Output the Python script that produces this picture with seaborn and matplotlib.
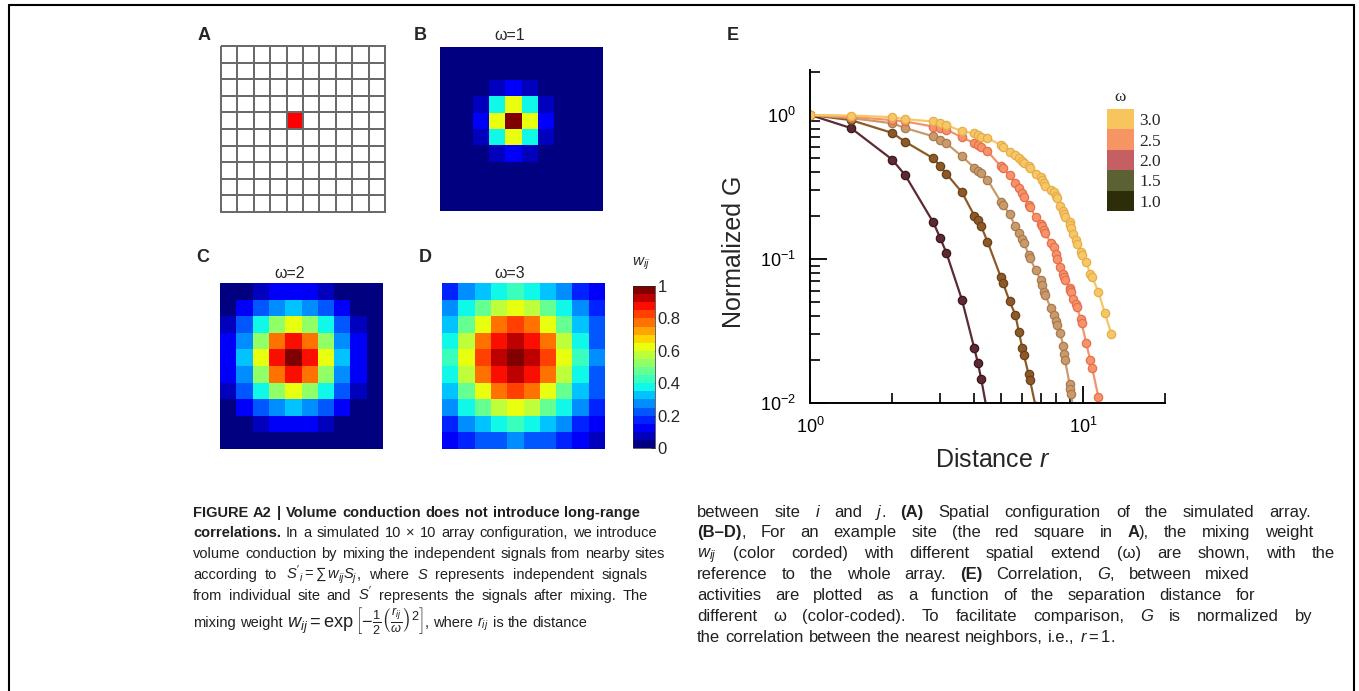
import numpy as np
import pandas as pd
import matplotlib
matplotlib.use('Agg')
import matplotlib.pyplot as plt
import seaborn as sns
from matplotlib.colors import ListedColormap
from matplotlib.lines import Line2D
from matplotlib.ticker import NullFormatter
from matplotlib import font_manager

# ---------------- data ----------------
# panel A: 10 x 10 array, the example site is marked with 1
site = np.zeros((10, 10))
site[4, 4] = 1

# panels B-D: mixing weights w_ij
w_omega1 = [
    [0, 0, 0, 0, 0, 0, 0, 0, 0, 0],
    [0, 0, 0, 0.01, 0.01, 0.01, 0, 0, 0, 0],
    [0, 0, 0.02, 0.08, 0.14, 0.08, 0.02, 0, 0, 0],
    [0, 0.01, 0.08, 0.37, 0.61, 0.37, 0.08, 0.01, 0, 0],
    [0, 0.01, 0.14, 0.61, 1.00, 0.61, 0.14, 0.01, 0, 0],
    [0, 0.01, 0.08, 0.37, 0.61, 0.37, 0.08, 0.01, 0, 0],
    [0, 0, 0.02, 0.08, 0.14, 0.08, 0.02, 0, 0, 0],
    [0, 0, 0, 0.01, 0.01, 0.01, 0, 0, 0, 0],
    [0, 0, 0, 0, 0, 0, 0, 0, 0, 0],
    [0, 0, 0, 0, 0, 0, 0, 0, 0, 0],
]
w_omega2 = [
    [0.02, 0.04, 0.08, 0.12, 0.14, 0.12, 0.08, 0.04, 0.02, 0.01],
    [0.04, 0.11, 0.20, 0.29, 0.32, 0.29, 0.20, 0.11, 0.04, 0.01],
    [0.08, 0.20, 0.37, 0.54, 0.61, 0.54, 0.37, 0.20, 0.08, 0.03],
    [0.12, 0.29, 0.54, 0.78, 0.88, 0.78, 0.54, 0.29, 0.12, 0.04],
    [0.14, 0.32, 0.61, 0.88, 1.00, 0.88, 0.61, 0.32, 0.14, 0.04],
    [0.12, 0.29, 0.54, 0.78, 0.88, 0.78, 0.54, 0.29, 0.12, 0.04],
    [0.08, 0.20, 0.37, 0.54, 0.61, 0.54, 0.37, 0.20, 0.08, 0.03],
    [0.04, 0.11, 0.20, 0.29, 0.32, 0.29, 0.20, 0.11, 0.04, 0.01],
    [0.02, 0.04, 0.08, 0.12, 0.14, 0.12, 0.08, 0.04, 0.02, 0.01],
    [0.01, 0.01, 0.03, 0.04, 0.04, 0.04, 0.03, 0.01, 0.01, 0.00],
]
w_omega3 = [
    [0.17, 0.25, 0.33, 0.39, 0.41, 0.39, 0.33, 0.25, 0.17, 0.10],
    [0.25, 0.37, 0.49, 0.57, 0.61, 0.57, 0.49, 0.37, 0.25, 0.15],
    [0.33, 0.49, 0.64, 0.76, 0.80, 0.76, 0.64, 0.49, 0.33, 0.20],
    [0.39, 0.57, 0.76, 0.89, 0.94, 0.89, 0.76, 0.57, 0.39, 0.24],
    [0.41, 0.61, 0.80, 0.94, 1.00, 0.94, 0.80, 0.61, 0.41, 0.25],
    [0.39, 0.57, 0.76, 0.89, 0.94, 0.89, 0.76, 0.57, 0.39, 0.24],
    [0.33, 0.49, 0.64, 0.76, 0.80, 0.76, 0.64, 0.49, 0.33, 0.20],
    [0.25, 0.37, 0.49, 0.57, 0.61, 0.57, 0.49, 0.37, 0.25, 0.15],
    [0.17, 0.25, 0.33, 0.39, 0.41, 0.39, 0.33, 0.25, 0.17, 0.10],
    [0.10, 0.15, 0.20, 0.24, 0.25, 0.24, 0.20, 0.15, 0.10, 0.06],
]
cbar_ticks = [0, 0.2, 0.4, 0.6, 0.8, 1]
cbar_labels = ['0', '0.2', '0.4', '0.6', '0.8', '1']

# panel E: distance r between sites and normalized G for each omega
r_all = [1, 1.414, 2, 2.236, 2.828, 3, 3.162, 3.606, 4, 4.123, 4.243, 4.472,
         5, 5.099, 5.385, 5.657, 5.831, 6, 6.083, 6.325, 6.403, 6.708,
         7, 7.071, 7.211, 7.28, 7.616, 7.81, 8, 8.062, 8.246, 8.485, 8.544,
         8.602, 8.944, 9, 9.055, 9.22, 9.434, 9.487, 9.849, 9.899, 10.296,
         10.63, 10.817, 11.402, 12.042, 12.728]

g_w10 = [1.0, 0.81, 0.49, 0.38, 0.18, 0.14, 0.11, 0.052, 0.024, 0.019,
         0.0146, 0.0085]
g_w15 = [1.0, 0.92, 0.75, 0.65, 0.50, 0.44, 0.39, 0.29, 0.20, 0.187, 0.168,
         0.132, 0.075, 0.068, 0.051, 0.041, 0.031, 0.024, 0.0215, 0.0158,
         0.0144, 0.0095]
g_w20 = [1.0, 0.95, 0.875, 0.81, 0.71, 0.67, 0.635, 0.515, 0.43, 0.41, 0.395,
         0.354, 0.25, 0.237, 0.205, 0.168, 0.151, 0.138, 0.13, 0.107, 0.101,
         0.084, 0.0715, 0.066, 0.059, 0.056, 0.046, 0.041, 0.037, 0.035,
         0.0305, 0.025, 0.022, 0.0199, 0.0135, 0.0125, 0.0115, 0.009]
g_w25 = [1.0, 0.97, 0.92, 0.90, 0.83, 0.81, 0.79, 0.70, 0.635, 0.62, 0.60,
         0.56, 0.44, 0.426, 0.383, 0.335, 0.309, 0.285, 0.271, 0.237, 0.231,
         0.195, 0.175, 0.168, 0.159, 0.151, 0.13, 0.122, 0.109, 0.1, 0.0885,
         0.079, 0.075, 0.072, 0.0625, 0.061, 0.059, 0.053, 0.049, 0.0467,
         0.038, 0.0357, 0.026, 0.0199, 0.0175, 0.011, 0.0065]
g_w30 = [1.0, 0.99, 0.965, 0.935, 0.90, 0.875, 0.85, 0.77, 0.745, 0.725,
         0.705, 0.69, 0.62, 0.60, 0.555, 0.525, 0.50, 0.475, 0.46, 0.44,
         0.425, 0.39, 0.37, 0.355, 0.335, 0.32, 0.30, 0.29, 0.275, 0.265,
         0.235, 0.215, 0.205, 0.195, 0.18, 0.172, 0.163, 0.15, 0.135, 0.128,
         0.112, 0.106, 0.095, 0.079, 0.075, 0.059, 0.042, 0.030]

line_colors = ['#5b2a33', '#8c5a28', '#c99b6c', '#f6936a', '#f7c766']
edge_colors = ['#3b161d', '#6a4018', '#a87a4f', '#e4704c', '#e6ad4a']

legend_values = ['3.0', '2.5', '2.0', '1.5', '1.0']
legend_colors = ['#f8c45c', '#f69464', '#c65f64', '#5c6133', '#2e2d09']

# ---------------- style ----------------
sns.set_style('white')
plt.rcParams['font.family'] = ['Liberation Sans', 'DejaVu Sans']
plt.rcParams['mathtext.fontset'] = 'custom'
plt.rcParams['mathtext.rm'] = 'Liberation Sans'
plt.rcParams['mathtext.it'] = 'Liberation Sans:italic'
plt.rcParams['mathtext.bf'] = 'Liberation Sans:bold'

names = {f.name for f in font_manager.fontManager.ttflist}
cap_font = 'Liberation Sans Narrow' if 'Liberation Sans Narrow' in names else 'Liberation Sans'

W, H = 1359, 691
fig = plt.figure(figsize=(W / 100, H / 100), dpi=100)
fig.patch.set_facecolor('white')


def box(x0, y0, x1, y1):
    return [x0 / W, 1 - y1 / H, (x1 - x0) / W, (y1 - y0) / H]


def put(x, y, s, **kw):
    return fig.text(x / W, 1 - y / H, s, **kw)


jet = plt.get_cmap('jet', 20)

# panel A
ax_a = fig.add_axes(box(221, 46, 385, 212))
sns.heatmap(site, ax=ax_a, cmap=ListedColormap(['white', 'red']), vmin=0, vmax=1,
            cbar=False, linewidths=1.1, linecolor='#6a6a6a',
            xticklabels=False, yticklabels=False)
ax_a.collections[0].set_clip_on(False)

# panels B, C, D
heat = [(w_omega1, box(440, 47, 603, 211), '\u03c9=1', (510, 35)),
        (w_omega2, box(220, 283, 383, 449), '\u03c9=2', (290, 273)),
        (w_omega3, box(442, 283, 605, 449), '\u03c9=3', (510, 273))]
for mat, pos, title, tpos in heat:
    ax = fig.add_axes(pos)
    sns.heatmap(np.array(mat), ax=ax, cmap=jet, vmin=0, vmax=1, cbar=False,
                linewidths=0.4, linecolor='face',
                xticklabels=False, yticklabels=False)
    put(tpos[0], tpos[1], title, fontsize=11.5, ha='center', va='center')
    last_ax = ax

cax = fig.add_axes(box(633, 286, 655, 448))
cb = fig.colorbar(last_ax.collections[0], cax=cax, ticks=cbar_ticks)
cb.ax.set_yticklabels(cbar_labels)
cb.ax.tick_params(labelsize=12, direction='in', length=3, width=0.6, pad=2, right=True)
cb.outline.set_linewidth(0.5)
put(641, 264, '$w_{ij}$', fontsize=11, ha='center', va='center')

# panel letters
for lab, xy in [('A', (204, 35)), ('B', (420, 35)), ('C', (203, 257)),
                ('D', (425, 257)), ('E', (733, 35))]:
    put(xy[0], xy[1], lab, fontsize=13, weight='bold', ha='center', va='center')

# panel E
ax_e = fig.add_axes(box(810, 70, 1165, 403))
curves = [g_w10, g_w15, g_w20, g_w25, g_w30]
for g, c, ec in zip(curves, line_colors, edge_colors):
    df = pd.DataFrame({'r': r_all[:len(g)], 'G': g})
    sns.lineplot(data=df, x='r', y='G', ax=ax_e, color=c, linewidth=1.6,
                 marker='o', markersize=6, markerfacecolor=c,
                 markeredgecolor=ec, markeredgewidth=0.9, estimator=None,
                 sort=False)
ax_e.set_xscale('log')
ax_e.set_yscale('log')
ax_e.set_xlim(1, 20)
ax_e.set_ylim(0.01, 2.05)
for s in ['top', 'right']:
    ax_e.spines[s].set_visible(False)
for s in ['left', 'bottom']:
    ax_e.spines[s].set_linewidth(1.4)
    ax_e.spines[s].set_color('black')
ax_e.tick_params(which='both', direction='in', bottom=True, left=True,
                 top=False, right=False, colors='black')
ax_e.tick_params(which='major', length=12, width=1.3, labelsize=13, pad=10)
ax_e.tick_params(which='minor', length=7, width=1.2)
ax_e.xaxis.set_minor_formatter(NullFormatter())
ax_e.yaxis.set_minor_formatter(NullFormatter())
ax_e.set_xlabel('Distance $r$', fontsize=18)
ax_e.set_ylabel('Normalized G', fontsize=18)
ax_e.xaxis.set_label_coords(0.515, -0.135)
ax_e.yaxis.set_label_coords(-0.18, 0.453)

# colour key of panel E
ax_k = fig.add_axes(box(1107, 109, 1134, 211))
sns.heatmap(np.arange(5)[::-1].reshape(5, 1), ax=ax_k,
            cmap=ListedColormap(legend_colors[::-1]), cbar=False,
            xticklabels=False, yticklabels=legend_values)
ax_k.yaxis.tick_right()
ax_k.tick_params(axis='y', length=0, pad=4, labelsize=12.5, labelrotation=0)
for t in ax_k.get_yticklabels():
    t.set_family('Liberation Serif')
put(1120, 97, '\u03c9', fontsize=12.5, family='Liberation Serif', ha='center', va='center')

# figure frame
for xs, ys in [((9, 1354), (5, 5)), ((9, 9), (5, 691)), ((1354, 1354), (5, 691))]:
    fig.add_artist(Line2D([x / W for x in xs], [1 - y / H for y in ys],
                          transform=fig.transFigure, color='black', lw=1.5))

# ---------------- caption ----------------
cap_left = [
    [("FIGURE A2 | Volume conduction does not introduce long-range", "b")],
    [("correlations.", "b"), (" In a simulated 10 \u00d7 10 array configuration, we introduce", "n")],
    [("volume conduction by mixing the independent signals from nearby sites", "n")],
    [("according to ", "n"), (r"$S'_i=\sum\,w_{ij}S_j$", "m"), (", where ", "n"), ("S", "i"),
     (" represents independent signals", "n")],
    [("from individual site and ", "n"), (r"$S'$", "m"),
     (" represents the signals after mixing. The", "n")],
    [("mixing weight ", "n"),
     (r"$w_{ij}=\exp\left[-\frac{1}{2}\left(\frac{r_{ij}}{\omega}\right)^2\right]$", "M"),
     (", where ", "n"), (r"$r_{ij}$", "m"), (" is the distance", "n")],
]
cap_right = [
    [("between site ", "n"), ("i", "i"), (" and ", "n"), ("j", "i"), (". ", "n"), ("(A)", "b"),
     (" Spatial configuration of the simulated array.", "n")],
    [("(B\u2013D)", "b"), (", For an example site (the red square in ", "n"), ("A", "b"),
     ("), the mixing weight", "n")],
    [(r"$w_{ij}$", "m"), (" (color corded) with different spatial extend (\u03c9) are shown, with the", "n")],
    [("reference to the whole array. ", "n"), ("(E)", "b"), (" Correlation, ", "n"), ("G", "i"),
     (", between mixed", "n")],
    [("activities are plotted as a function of the separation distance for", "n")],
    [("different \u03c9 (color-coded). To facilitate comparison, ", "n"), ("G", "i"),
     (" is normalized by", "n")],
    [("the correlation between the nearest neighbors, i.e., ", "n"), (r"$r=1$", "m"), (".", "n")],
]
left_base = [517, 537, 558, 579, 600, 627]
left_end = [640, 657, 665, 648, 648, None]
right_base = [517, 537, 558, 579, 600, 621, 642]
right_end = [1311, 1313, 1335, 1250, 1255, 1313, None]

renderer = fig.canvas.get_renderer()


def caption_line(segs, x0, x1, y, size):
    words = [[]]
    for text, st in segs:
        if st in ('m', 'M'):
            words[-1].append((text, st))
            continue
        parts = text.split(' ')
        for k, p in enumerate(parts):
            if k > 0:
                words.append([])
            if p:
                words[-1].append((p, st))
    words = [w for w in words if w]
    placed, widths = [], []
    for w in words:
        arts, ww = [], 0
        for p, st in w:
            t = put(0, y, p, fontsize=size * 1.25 if st == 'M' else size,
                    family=cap_font, color='#231f20',
                    weight='bold' if st == 'b' else 'normal',
                    style='italic' if st == 'i' else 'normal',
                    ha='left', va='baseline')
            arts.append((t, ww))
            ww += t.get_window_extent(renderer).width
        placed.append(arts)
        widths.append(ww)
    if x1 is None:
        gap = 0.3 * size * 100 / 72
    else:
        gap = (x1 - x0 - sum(widths)) / max(len(words) - 1, 1)
    x = x0
    for arts, ww in zip(placed, widths):
        for t, off in arts:
            t.set_x((x + off) / W)
        x += ww + gap


for segs, yb, xe in zip(cap_left, left_base, left_end):
    caption_line(segs, 193, xe, yb, 10.5)
for segs, yb, xe in zip(cap_right, right_base, right_end):
    caption_line(segs, 697, xe, yb, 12)

fig.savefig('out.png', dpi=100, facecolor='white')
